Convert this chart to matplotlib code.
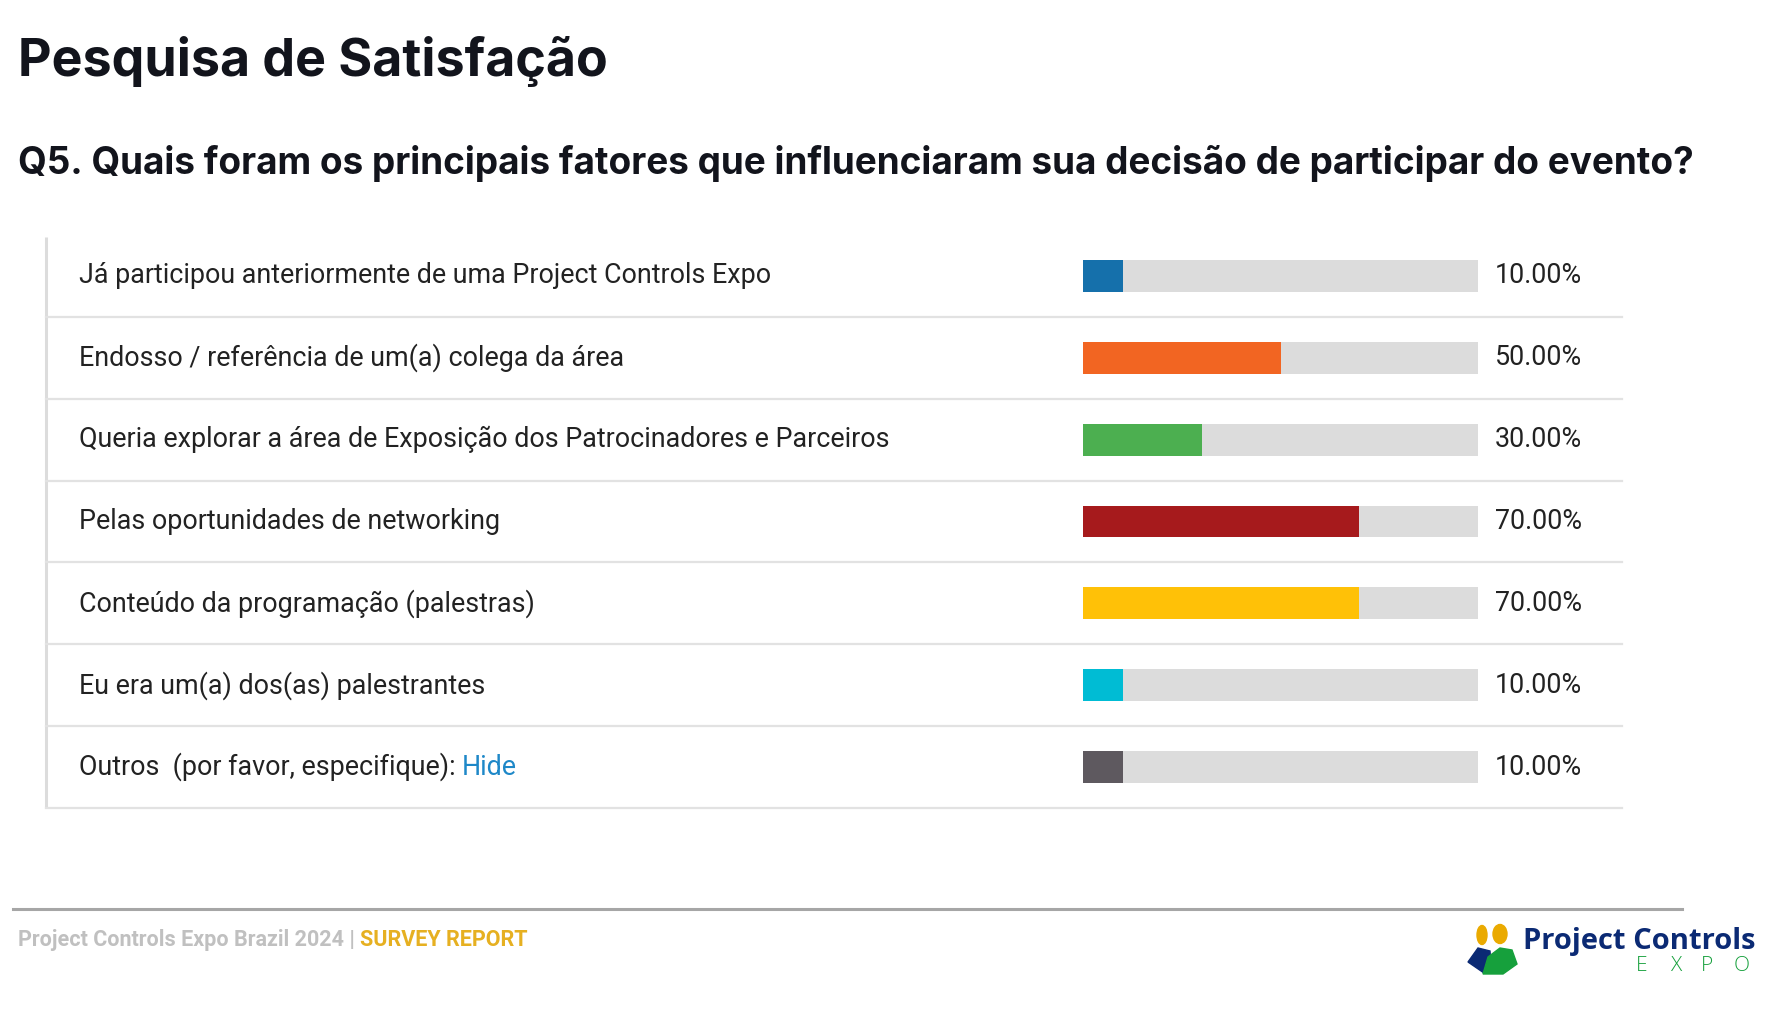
import matplotlib.pyplot as plt
from matplotlib.patches import Ellipse, Polygon

# survey data
labels = [
    "Já participou anteriormente de uma Project Controls Expo",
    "Endosso / referência de um(a) colega da área",
    "Queria explorar a área de Exposição dos Patrocinadores e Parceiros",
    "Pelas oportunidades de networking",
    "Conteúdo da programação (palestras)",
    "Eu era um(a) dos(as) palestrantes",
    "Outros  (por favor, especifique): ",
]
values = [10, 50, 30, 70, 70, 10, 10]
colors = ["#1570AB", "#F26522", "#4CAF50", "#A61A1C", "#FFC107", "#00BCD4", "#5E595F"]

title = "Pesquisa de Satisfação"
question = "Q5. Quais foram os principais fatores que influenciaram sua decisão de participar do evento?"

W, H = 1772, 1019
fig = plt.figure(figsize=(W / 100, H / 100), dpi=100)
plt.rcParams['font.family'] = ['Roboto', 'DejaVu Sans']

# canvas axes in pixel coords
ax = fig.add_axes([0, 0, 1, 1])
ax.set_xlim(0, W)
ax.set_ylim(H, 0)
ax.axis('off')

ax.text(18, 61, title, fontsize=37.4, fontweight='bold', color='#12141C', va='center',
        family=['Inter', 'DejaVu Sans'])
ax.text(18, 163, question, fontsize=26.6, fontweight='bold', color='#12141C', va='center',
        family=['Inter', 'DejaVu Sans'])

# table layout
top, bottom = 235, 808
n = len(labels)
rh = (bottom - top) / n
ax.plot([46, 46], [237, bottom], color='#DCDCDC', lw=2.2, solid_capstyle='butt')
for i, lab in enumerate(labels):
    yc = top + (i + 0.5) * rh
    ax.plot([46, 1622], [top + (i + 1) * rh] * 2, color='#E2E2E2', lw=1.6)
    t = ax.text(79, yc, lab, fontsize=19.4, color='#222222', va='center')
    ax.text(1495, yc, f"{values[i]:.2f}%", fontsize=19.4, color='#222222', va='center')
    if i == n - 1:
        ax.annotate("Hide", xy=(1, 0), xycoords=t, va='bottom', ha='left',
                    fontsize=19.4, color='#1E88C8')

# bars axes
bx = fig.add_axes([1083 / W, (H - bottom) / H, 395 / W, (bottom - top) / H])
ypos = list(range(n))
bx.barh(ypos, [100] * n, height=0.39, color='#DCDCDC')
bx.barh(ypos, values, height=0.39, color=colors)
bx.set_xlim(0, 100)
bx.set_ylim(n - 0.5, -0.5)
bx.axis('off')

# footer
ax.plot([13, 1682], [909, 909], color='#A6A6A6', lw=2.2)
ft = ax.text(18, 940, "Project Controls Expo Brazil 2024 | ", fontsize=15.5, fontweight='bold',
             color='#C0C0C0', va='center')
ax.annotate("SURVEY REPORT", xy=(1, 0), xycoords=ft, va='bottom', ha='left',
            fontsize=15.5, fontweight='bold', color='#E6B021')

# logo
ax.add_patch(Ellipse((1482, 935), 10, 19, color='#EAAA00'))
ax.add_patch(Ellipse((1500, 934), 14, 19, color='#EAAA00'))
ax.add_patch(Polygon([(1468, 962), (1478, 948), (1490, 951), (1491, 966), (1484, 973)],
                     closed=True, color='#0B2A74'))
ax.add_patch(Polygon([(1483, 974), (1488, 957), (1500, 948), (1512, 950), (1517, 964), (1503, 974)],
                     closed=True, color='#16A03C'))
ax.text(1523, 942, "Project Controls", fontsize=21, fontweight='bold', color='#0B2A74',
        va='center', family=['Open Sans', 'DejaVu Sans'])
for ch, xc in zip("EXPO", [1642, 1677, 1707, 1742]):
    ax.text(xc, 966, ch, fontsize=15, fontweight='light', color='#16A03C', va='center', ha='center',
            family=['Open Sans', 'DejaVu Sans'])

fig.savefig("out.png", dpi=100)
